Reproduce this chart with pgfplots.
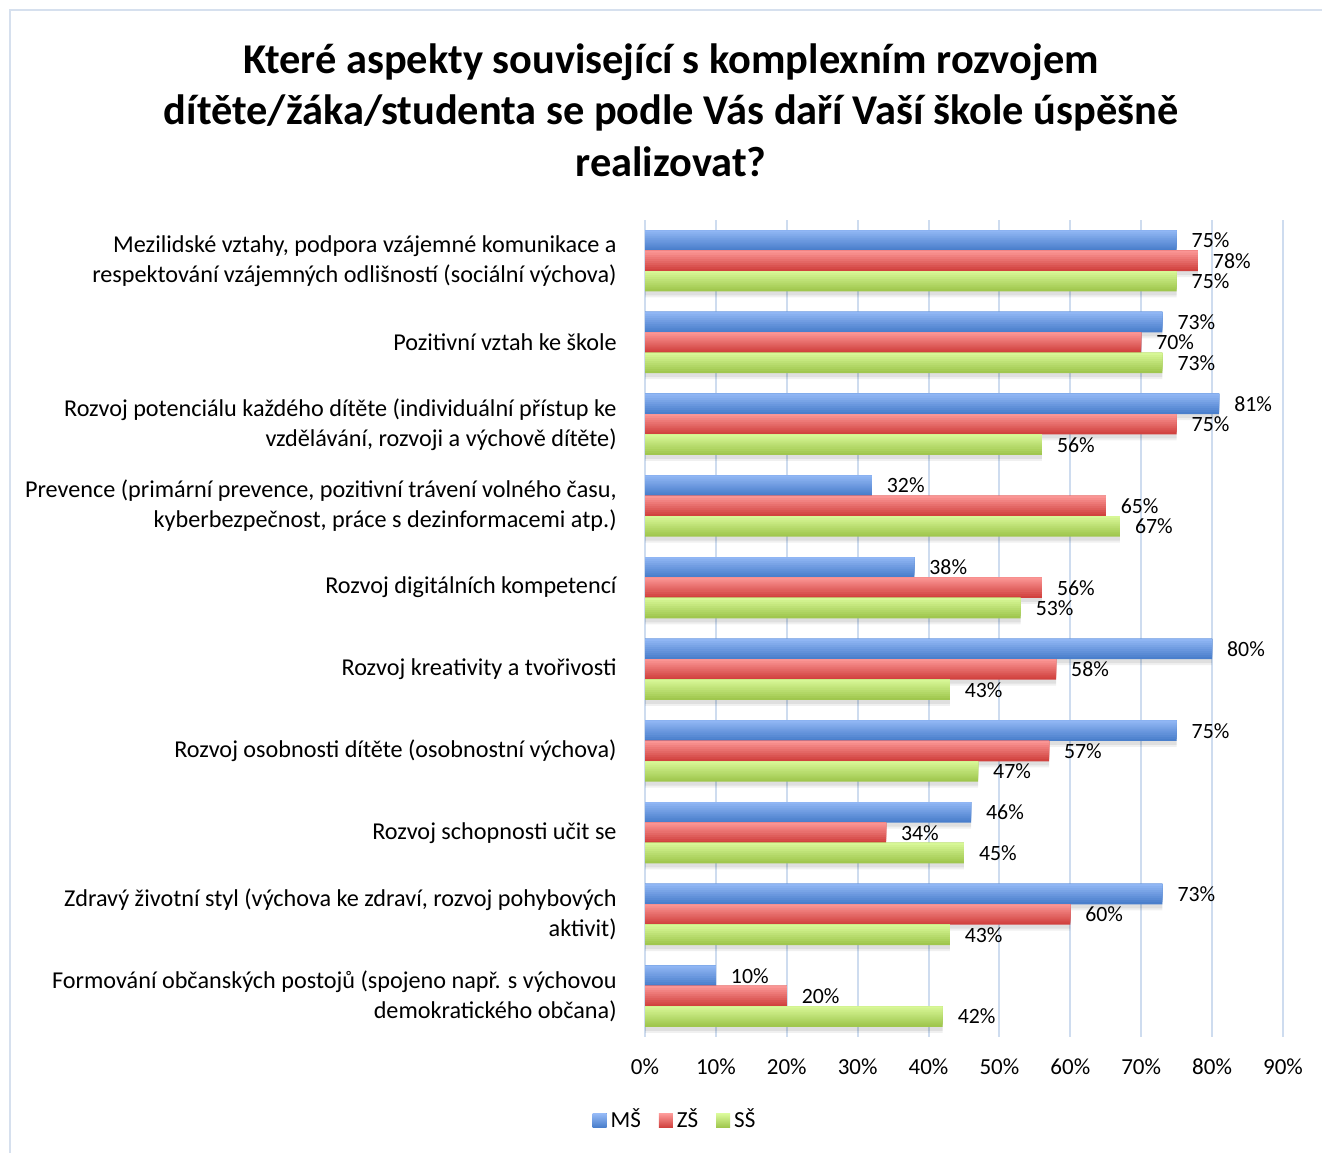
\documentclass[border=0pt]{standalone}
\usepackage{pgfplots}
\usepackage{pgfplotstable}
\pgfplotsset{compat=1.18}
\usepackage{fontspec}
\setmainfont{Carlito}

\definecolor{msTop}{HTML}{98BCF8}
\definecolor{msBot}{HTML}{4A7FCC}
\definecolor{zsTop}{HTML}{FF9E9D}
\definecolor{zsBot}{HTML}{D1423F}
\definecolor{ssTop}{HTML}{DDFC9E}
\definecolor{ssBot}{HTML}{A0C74E}
\definecolor{gridc}{HTML}{CEDCEF}
\definecolor{framec}{HTML}{D6E0EE}

% idx = category, top to bottom
\pgfplotstableread{
idx ms zs ss
0   75 78 75
1   73 70 73
2   81 75 56
3   32 65 67
4   38 56 53
5   80 58 43
6   75 57 47
7   46 34 45
8   73 60 43
9   10 20 42
}\datatable

% stacked narrower bars, aligned at the top edge, fake a vertical gradient
\newcommand{\gradbars}[4]{%
  \pgfplotsinvokeforeach{1,...,9}{%
    \addplot[forget plot, draw=none, fill={#2!##10!#3},
      bar width={10.2pt-##1*1.02pt}, bar shift={#4pt+##1*0.51pt}]
      table[x=#1, y=idx] {\datatable};}}

\begin{document}
\begin{tikzpicture}[x=1pt,y=1pt]
\path[use as bounding box] (0,0) rectangle (661,576.5);
\draw[framec, line width=0.8pt] (661,571.5) -- (5,571.5) -- (5,0);
\node[font=\bfseries\fontsize{21.2}{25.75}\selectfont, align=center] at (335.5,521.5)
  {Které aspekty související s komplexním rozvojem\\dítěte/žáka/studenta se podle Vás daří Vaší škole úspěšně\\realizovat?};
\begin{axis}[
    at={(322.5pt,58pt)}, anchor=south west,
    scale only axis, width=319pt, height=408.5pt,
    xbar, bar width=10.2pt,
    xmin=0, xmax=90, ymin=-0.5, ymax=9.5,
    y dir=reverse,
    xtick={0,10,...,90}, ytick={0,...,9},
    xticklabel={\pgfmathprintnumber{\tick}\%},
    /pgf/number format/assume math mode=true,
    xticklabel style={font=\fontsize{11.5}{13}\selectfont, yshift=-7.5pt},
    yticklabels={
      {Mezilidské vztahy, podpora vzájemné komunikace a\\respektování vzájemných odlišností (sociální výchova)},
      {Pozitivní vztah ke škole},
      {Rozvoj potenciálu každého dítěte (individuální přístup ke\\vzdělávání, rozvoji a výchově dítěte)},
      {Prevence (primární prevence, pozitivní trávení volného času,\\kyberbezpečnost, práce s dezinformacemi atp.)},
      {Rozvoj digitálních kompetencí},
      {Rozvoj kreativity a tvořivosti},
      {Rozvoj osobnosti dítěte (osobnostní výchova)},
      {Rozvoj schopnosti učit se},
      {Zdravý životní styl (výchova ke zdraví, rozvoj pohybových\\aktivit)},
      {Formování občanských postojů (spojeno např. s výchovou\\demokratického občana)}},
    yticklabel style={font=\fontsize{12.1}{15}\selectfont, align=right, anchor=east, inner sep=0pt, xshift=-14pt},
    major tick length=0pt,
    axis line style={draw=none},
    xmajorgrids, grid style={gridc, line width=1pt},
    point meta=x,
    every node near coord/.append style={font=\fontsize{10.9}{12}\selectfont, anchor=west, xshift=4pt},
    legend style={at={(0.0486,-0.1016)}, anchor=center, legend columns=3, draw=none, fill=none,
      font=\fontsize{11.5}{13}\selectfont,
      /tikz/every even column/.append style={column sep=7pt}},
]
% soft shadows under the bars
\addplot[forget plot, draw=none, fill=black, fill opacity=0.07, bar shift=8.2pt] table[x=ms, y=idx] {\datatable};
\addplot[forget plot, draw=none, fill=black, fill opacity=0.07, bar shift=-2pt] table[x=zs, y=idx] {\datatable};
\addplot[forget plot, draw=none, fill=black, fill opacity=0.07, bar shift=-12.2pt] table[x=ss, y=idx] {\datatable};
\addplot[forget plot, draw=none, fill=black, fill opacity=0.06, bar shift=7.2pt] table[x=ms, y=idx] {\datatable};
\addplot[forget plot, draw=none, fill=black, fill opacity=0.06, bar shift=-3pt] table[x=zs, y=idx] {\datatable};
\addplot[forget plot, draw=none, fill=black, fill opacity=0.06, bar shift=-13.2pt] table[x=ss, y=idx] {\datatable};

\addplot[draw=none, fill=msBot, bar shift=10.2pt,
  nodes near coords={\pgfmathprintnumber{\pgfplotspointmeta}\%},
  legend image code/.code={\path[top color=msTop, bottom color=msBot] (0pt,-3.5pt) rectangle (7pt,3.5pt);}]
  table[x=ms, y=idx] {\datatable};
\addlegendentry{MŠ}
\gradbars{ms}{msTop}{msBot}{10.2}

\addplot[draw=none, fill=zsBot, bar shift=0pt,
  nodes near coords={\pgfmathprintnumber{\pgfplotspointmeta}\%},
  legend image code/.code={\path[top color=zsTop, bottom color=zsBot] (0pt,-3.5pt) rectangle (7pt,3.5pt);}]
  table[x=zs, y=idx] {\datatable};
\addlegendentry{ZŠ}
\gradbars{zs}{zsTop}{zsBot}{0}

\addplot[draw=none, fill=ssBot, bar shift=-10.2pt,
  nodes near coords={\pgfmathprintnumber{\pgfplotspointmeta}\%},
  legend image code/.code={\path[top color=ssTop, bottom color=ssBot] (0pt,-3.5pt) rectangle (7pt,3.5pt);}]
  table[x=ss, y=idx] {\datatable};
\addlegendentry{SŠ}
\gradbars{ss}{ssTop}{ssBot}{-10.2}
\end{axis}
\end{tikzpicture}
\end{document}
